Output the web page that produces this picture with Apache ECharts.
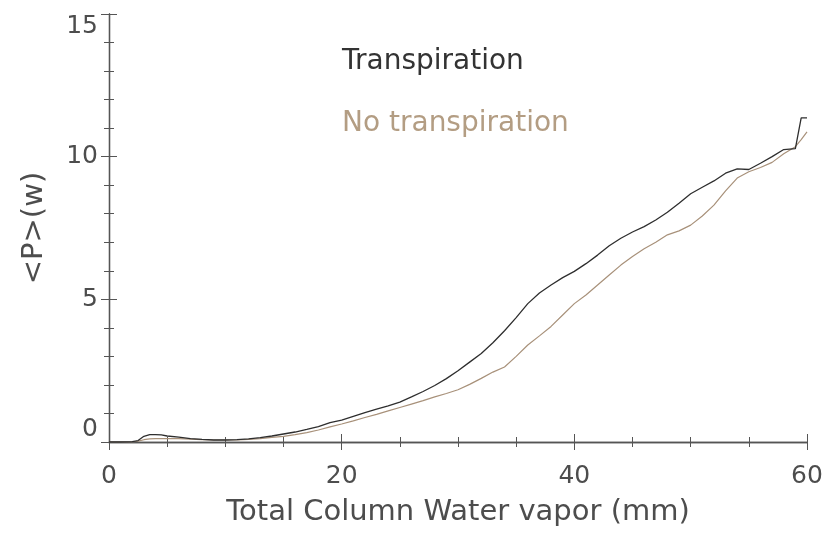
<!DOCTYPE html>
<html><head><meta charset="utf-8">
<script src="https://cdn.jsdelivr.net/npm/echarts@6/dist/echarts.min.js"></script>
<style>html,body{margin:0;padding:0;background:#fff}#c{width:830px;height:533px}</style>
</head><body><div id="c"></div>
<script>
var xVals = [0,1,2,2.5,3,3.5,4,4.5,5,6,7,8,9,10,11,12,13,14,15,16,17,18,19,20,21,22,23,24,25,26,27,28,29,30,31,32,33,34,35,36,37,38,39,40,41,42,43,44,45,46,47,48,49,50,51,52,53,54,55,56,57,58,59,59.5,60];
var transpiration = [0,0,0.01,0.05,0.2,0.26,0.26,0.25,0.21,0.17,0.12,0.09,0.07,0.07,0.08,0.11,0.15,0.21,0.28,0.35,0.44,0.54,0.68,0.77,0.9,1.03,1.15,1.27,1.4,1.58,1.77,1.98,2.22,2.5,2.8,3.1,3.48,3.9,4.36,4.85,5.22,5.5,5.76,5.98,6.25,6.55,6.88,7.14,7.36,7.55,7.78,8.05,8.37,8.7,8.93,9.15,9.42,9.57,9.55,9.77,10.0,10.25,10.28,11.36,11.36];
var noTranspiration = [0,0,0,0.03,0.08,0.11,0.12,0.12,0.12,0.12,0.1,0.08,0.07,0.07,0.07,0.09,0.12,0.16,0.2,0.26,0.33,0.42,0.53,0.63,0.74,0.86,0.97,1.09,1.21,1.33,1.45,1.58,1.7,1.83,2.02,2.23,2.45,2.63,3.0,3.4,3.72,4.05,4.45,4.85,5.15,5.5,5.85,6.2,6.5,6.77,7.0,7.26,7.4,7.6,7.92,8.3,8.8,9.25,9.47,9.62,9.8,10.1,10.35,10.6,10.87];
var seriesNames = ['Transpiration','No transpiration'];
var xTicks = [0,20,40,60];
var yTicks = [0,5,10,15];

function pairs(ys){ return xVals.map(function(x,i){ return [x, ys[i]]; }); }
var FONT = 'DejaVu Sans';
var TXT = '#4d4d4d';
var axisLine = {show:true, lineStyle:{color:'#555', width:1.3}};
function xAx(pos, labels){
  return {type:'value', position:pos, min:0, max:60, interval:20,
    axisLine:axisLine, axisTick:{show:true, inside:true, length:8, lineStyle:{color:'#555'}},
    minorTick:{show:true, splitNumber:4, length:5, lineStyle:{color:'#555'}},
    splitLine:{show:false}, minorSplitLine:{show:false},
    axisLabel:{show:labels, color:TXT, fontFamily:FONT, fontSize:25, margin:22,
      formatter:function(v){ return xTicks.indexOf(v) >= 0 ? String(v) : ''; }},
    name: labels ? 'Total Column Water vapor (mm)' : '', nameLocation:'middle', nameGap:56,
    nameTextStyle:{color:TXT, fontFamily:FONT, fontSize:29}};
}
function yAx(pos, labels){
  return {type:'value', position:pos, min:0, max:15, interval:5,
    axisLine:axisLine, axisTick:{show:true, inside:true, length:8, lineStyle:{color:'#555'}},
    minorTick:{show:true, splitNumber:5, length:5, lineStyle:{color:'#555'}},
    splitLine:{show:false}, minorSplitLine:{show:false},
    axisLabel:{show:labels, color:TXT, fontFamily:FONT, fontSize:25, margin:11,
      verticalAlignMinLabel:'bottom', verticalAlignMaxLabel:'top',
      formatter:function(v){ return yTicks.indexOf(v) >= 0 ? String(v) : ''; }},
    name: labels ? '<P>(w)' : '', nameLocation:'middle', nameGap:60,
    nameTextStyle:{color:TXT, fontFamily:FONT, fontSize:29}};
}
var chart = echarts.init(document.getElementById('c'), null, {renderer:'canvas'});
chart.setOption({
  backgroundColor:'#fff',
  animation:false,
  grid:{left:109, right:23, top:14, bottom:91},
  xAxis:[xAx('bottom', true), xAx('top', false)],
  yAxis:[yAx('left', true), yAx('right', false)],
  graphic:[
    {type:'text', left:342, top:48, style:{text:seriesNames[0], fill:'#333', font:'28px "DejaVu Sans"'}},
    {type:'text', left:342, top:110, style:{text:seriesNames[1], fill:'#b39d83', font:'28px "DejaVu Sans"'}}
  ],
  series:[
    {name:seriesNames[1], type:'line', data:pairs(noTranspiration), showSymbol:false, lineStyle:{color:'#a8917a', width:1.2}},
    {name:seriesNames[0], type:'line', data:pairs(transpiration), showSymbol:false, lineStyle:{color:'#2e2e2e', width:1.3}}
  ]
});
</script></body></html>
